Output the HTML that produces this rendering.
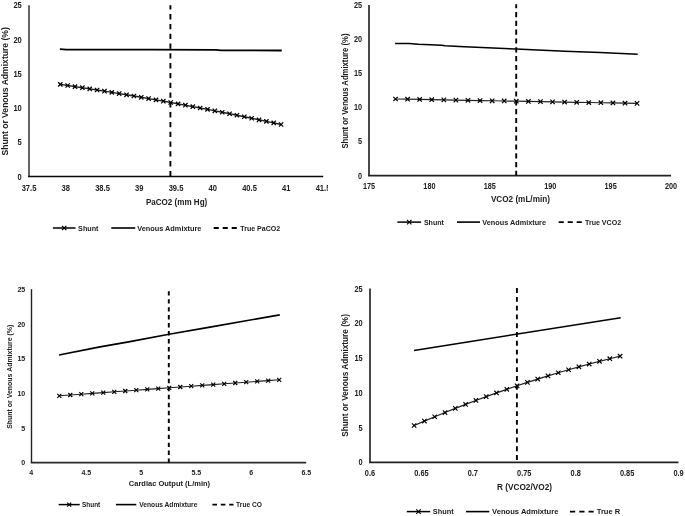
<!DOCTYPE html>
<html><head><meta charset="utf-8"><style>
html,body{margin:0;padding:0;background:#fff;width:685px;height:516px;overflow:hidden}
svg{display:block;font-family:"Liberation Sans", sans-serif;will-change:transform}
text{fill:#202020;stroke:#202020;stroke-width:0px;font-weight:bold}
</style></head><body>
<svg width="685" height="516" viewBox="0 0 685 516">
<defs><clipPath id="c1"><rect x="0" y="0" width="328" height="260"/></clipPath></defs>
<rect width="685" height="516" fill="#fff"/>
<g clip-path="url(#c1)">
<text x="0" y="0" transform="translate(21.80 179.60) scale(0.88 1)" font-size="8.6" text-anchor="end" >0</text>
<text x="0" y="0" transform="translate(21.80 145.36) scale(0.88 1)" font-size="8.6" text-anchor="end" >5</text>
<text x="0" y="0" transform="translate(21.80 111.12) scale(0.88 1)" font-size="8.6" text-anchor="end" >10</text>
<text x="0" y="0" transform="translate(21.80 76.88) scale(0.88 1)" font-size="8.6" text-anchor="end" >15</text>
<text x="0" y="0" transform="translate(21.80 42.64) scale(0.88 1)" font-size="8.6" text-anchor="end" >20</text>
<text x="0" y="0" transform="translate(21.80 8.40) scale(0.88 1)" font-size="8.6" text-anchor="end" >25</text>
<text x="0" y="0" transform="translate(29.00 191.10) scale(0.88 1)" font-size="8.6" text-anchor="middle" >37.5</text>
<text x="0" y="0" transform="translate(65.75 191.10) scale(0.88 1)" font-size="8.6" text-anchor="middle" >38</text>
<text x="0" y="0" transform="translate(102.50 191.10) scale(0.88 1)" font-size="8.6" text-anchor="middle" >38.5</text>
<text x="0" y="0" transform="translate(139.25 191.10) scale(0.88 1)" font-size="8.6" text-anchor="middle" >39</text>
<text x="0" y="0" transform="translate(176.00 191.10) scale(0.88 1)" font-size="8.6" text-anchor="middle" >39.5</text>
<text x="0" y="0" transform="translate(212.75 191.10) scale(0.88 1)" font-size="8.6" text-anchor="middle" >40</text>
<text x="0" y="0" transform="translate(249.50 191.10) scale(0.88 1)" font-size="8.6" text-anchor="middle" >40.5</text>
<text x="0" y="0" transform="translate(286.25 191.10) scale(0.88 1)" font-size="8.6" text-anchor="middle" >41</text>
<text x="0" y="0" transform="translate(323.00 191.10) scale(0.88 1)" font-size="8.6" text-anchor="middle" >41.5</text>
<line x1="29.00" y1="5.30" x2="29.00" y2="177.00" stroke="#666" stroke-width="2" />
<line x1="28.00" y1="176.50" x2="323.20" y2="176.50" stroke="#0a0a0a" stroke-width="1.7" />
<line x1="170.40" y1="5.30" x2="170.40" y2="176.50" stroke="#000" stroke-width="1.9" stroke-dasharray="5.3 4.5" stroke-dashoffset="1.0"/>
<polyline points="59.90,49.10 66.40,49.60 150.00,49.70 216.00,49.90 221.00,50.40 281.80,50.50" fill="none" stroke="#000" stroke-width="1.8" stroke-linejoin="round" />
<polyline points="60.30,84.40 67.66,85.49 75.02,86.59 82.38,87.71 89.74,88.85 97.10,90.00 104.46,91.17 111.82,92.36 119.18,93.57 126.54,94.79 133.90,96.03 141.26,97.29 148.62,98.57 155.98,99.86 163.34,101.17 170.70,102.50 178.06,103.85 185.42,105.21 192.78,106.59 200.14,107.99 207.50,109.40 214.86,110.83 222.22,112.28 229.58,113.75 236.94,115.23 244.30,116.73 251.66,118.25 259.02,119.79 266.38,121.34 273.74,122.91 281.10,124.50" fill="none" stroke="#222" stroke-width="1.4" stroke-linejoin="round" />
<path d="M58.15,82.25L62.45,86.55M58.15,86.55L62.45,82.25" stroke="#000" stroke-width="1.25" fill="none"/>
<path d="M65.51,83.34L69.81,87.64M65.51,87.64L69.81,83.34" stroke="#000" stroke-width="1.25" fill="none"/>
<path d="M72.87,84.44L77.17,88.74M72.87,88.74L77.17,84.44" stroke="#000" stroke-width="1.25" fill="none"/>
<path d="M80.23,85.56L84.53,89.86M80.23,89.86L84.53,85.56" stroke="#000" stroke-width="1.25" fill="none"/>
<path d="M87.59,86.70L91.89,91.00M87.59,91.00L91.89,86.70" stroke="#000" stroke-width="1.25" fill="none"/>
<path d="M94.95,87.85L99.25,92.15M94.95,92.15L99.25,87.85" stroke="#000" stroke-width="1.25" fill="none"/>
<path d="M102.31,89.02L106.61,93.32M102.31,93.32L106.61,89.02" stroke="#000" stroke-width="1.25" fill="none"/>
<path d="M109.67,90.21L113.97,94.51M109.67,94.51L113.97,90.21" stroke="#000" stroke-width="1.25" fill="none"/>
<path d="M117.03,91.42L121.33,95.72M117.03,95.72L121.33,91.42" stroke="#000" stroke-width="1.25" fill="none"/>
<path d="M124.39,92.64L128.69,96.94M124.39,96.94L128.69,92.64" stroke="#000" stroke-width="1.25" fill="none"/>
<path d="M131.75,93.88L136.05,98.18M131.75,98.18L136.05,93.88" stroke="#000" stroke-width="1.25" fill="none"/>
<path d="M139.11,95.14L143.41,99.44M139.11,99.44L143.41,95.14" stroke="#000" stroke-width="1.25" fill="none"/>
<path d="M146.47,96.42L150.77,100.72M146.47,100.72L150.77,96.42" stroke="#000" stroke-width="1.25" fill="none"/>
<path d="M153.83,97.71L158.13,102.01M153.83,102.01L158.13,97.71" stroke="#000" stroke-width="1.25" fill="none"/>
<path d="M161.19,99.02L165.49,103.32M161.19,103.32L165.49,99.02" stroke="#000" stroke-width="1.25" fill="none"/>
<path d="M168.55,100.35L172.85,104.65M168.55,104.65L172.85,100.35" stroke="#000" stroke-width="1.25" fill="none"/>
<path d="M175.91,101.70L180.21,106.00M175.91,106.00L180.21,101.70" stroke="#000" stroke-width="1.25" fill="none"/>
<path d="M183.27,103.06L187.57,107.36M183.27,107.36L187.57,103.06" stroke="#000" stroke-width="1.25" fill="none"/>
<path d="M190.63,104.44L194.93,108.74M190.63,108.74L194.93,104.44" stroke="#000" stroke-width="1.25" fill="none"/>
<path d="M197.99,105.84L202.29,110.14M197.99,110.14L202.29,105.84" stroke="#000" stroke-width="1.25" fill="none"/>
<path d="M205.35,107.25L209.65,111.55M205.35,111.55L209.65,107.25" stroke="#000" stroke-width="1.25" fill="none"/>
<path d="M212.71,108.68L217.01,112.98M212.71,112.98L217.01,108.68" stroke="#000" stroke-width="1.25" fill="none"/>
<path d="M220.07,110.13L224.37,114.43M220.07,114.43L224.37,110.13" stroke="#000" stroke-width="1.25" fill="none"/>
<path d="M227.43,111.60L231.73,115.90M227.43,115.90L231.73,111.60" stroke="#000" stroke-width="1.25" fill="none"/>
<path d="M234.79,113.08L239.09,117.38M234.79,117.38L239.09,113.08" stroke="#000" stroke-width="1.25" fill="none"/>
<path d="M242.15,114.58L246.45,118.88M242.15,118.88L246.45,114.58" stroke="#000" stroke-width="1.25" fill="none"/>
<path d="M249.51,116.10L253.81,120.40M249.51,120.40L253.81,116.10" stroke="#000" stroke-width="1.25" fill="none"/>
<path d="M256.87,117.64L261.17,121.94M256.87,121.94L261.17,117.64" stroke="#000" stroke-width="1.25" fill="none"/>
<path d="M264.23,119.19L268.53,123.49M264.23,123.49L268.53,119.19" stroke="#000" stroke-width="1.25" fill="none"/>
<path d="M271.59,120.76L275.89,125.06M271.59,125.06L275.89,120.76" stroke="#000" stroke-width="1.25" fill="none"/>
<path d="M278.95,122.35L283.25,126.65M278.95,126.65L283.25,122.35" stroke="#000" stroke-width="1.25" fill="none"/>
<text x="145.90" y="205.27" font-size="8.8" text-anchor="start" textLength="61.40" lengthAdjust="spacingAndGlyphs" >PaCO2 (mm Hg)</text>
<text x="8.30" y="155.50" font-size="8.2" text-anchor="start" textLength="128.30" lengthAdjust="spacingAndGlyphs" transform="rotate(-90 8.30 155.50)" >Shunt or Venous Admixture (%)</text>
<line x1="52.90" y1="228.00" x2="75.50" y2="228.00" stroke="#000" stroke-width="1.5" />
<path d="M62.05,225.85L66.35,230.15M62.05,230.15L66.35,225.85" stroke="#000" stroke-width="1.25" fill="none"/>
<text x="78.10" y="230.81" font-size="7.8" text-anchor="start" textLength="20.40" lengthAdjust="spacingAndGlyphs" >Shunt</text>
<line x1="111.30" y1="228.00" x2="135.30" y2="228.00" stroke="#000" stroke-width="1.6" />
<text x="137.20" y="230.81" font-size="7.8" text-anchor="start" textLength="64.20" lengthAdjust="spacingAndGlyphs" >Venous Admixture</text>
<line x1="213.70" y1="228.00" x2="236.80" y2="228.00" stroke="#000" stroke-width="1.8" stroke-dasharray="5.1 3.9"/>
<text x="240.30" y="230.81" font-size="7.8" text-anchor="start" textLength="39.80" lengthAdjust="spacingAndGlyphs" >True PaCO2</text>
</g>
<text x="0" y="0" transform="translate(362.00 178.59) scale(0.88 1)" font-size="8.3" text-anchor="end" >0</text>
<text x="0" y="0" transform="translate(362.00 144.45) scale(0.88 1)" font-size="8.3" text-anchor="end" >5</text>
<text x="0" y="0" transform="translate(362.00 110.31) scale(0.88 1)" font-size="8.3" text-anchor="end" >10</text>
<text x="0" y="0" transform="translate(362.00 76.17) scale(0.88 1)" font-size="8.3" text-anchor="end" >15</text>
<text x="0" y="0" transform="translate(362.00 42.03) scale(0.88 1)" font-size="8.3" text-anchor="end" >20</text>
<text x="0" y="0" transform="translate(362.00 7.89) scale(0.88 1)" font-size="8.3" text-anchor="end" >25</text>
<text x="0" y="0" transform="translate(369.00 189.09) scale(0.88 1)" font-size="8.3" text-anchor="middle" >175</text>
<text x="0" y="0" transform="translate(429.40 189.09) scale(0.88 1)" font-size="8.3" text-anchor="middle" >180</text>
<text x="0" y="0" transform="translate(489.80 189.09) scale(0.88 1)" font-size="8.3" text-anchor="middle" >185</text>
<text x="0" y="0" transform="translate(550.20 189.09) scale(0.88 1)" font-size="8.3" text-anchor="middle" >190</text>
<text x="0" y="0" transform="translate(610.60 189.09) scale(0.88 1)" font-size="8.3" text-anchor="middle" >195</text>
<text x="0" y="0" transform="translate(671.00 189.09) scale(0.88 1)" font-size="8.3" text-anchor="middle" >200</text>
<line x1="369.00" y1="4.90" x2="369.00" y2="176.10" stroke="#4a4a4a" stroke-width="2" />
<line x1="368.00" y1="175.60" x2="671.00" y2="175.60" stroke="#222" stroke-width="1.7" />
<line x1="516.20" y1="4.30" x2="516.20" y2="175.60" stroke="#000" stroke-width="1.9" stroke-dasharray="5.2 3.63" stroke-dashoffset="1.2"/>
<polyline points="395.10,43.40 409.00,43.50 418.40,44.30 441.70,45.20 445.20,45.70 459.30,46.40 516.20,49.10 565.00,51.30 600.00,52.60 637.70,54.30" fill="none" stroke="#000" stroke-width="1.5" stroke-linejoin="round" />
<polyline points="395.50,99.00 407.58,99.22 419.66,99.44 431.74,99.66 443.82,99.88 455.90,100.10 467.98,100.32 480.06,100.54 492.14,100.76 504.22,100.98 516.30,101.20 528.38,101.42 540.46,101.64 552.54,101.86 564.62,102.08 576.70,102.30 588.78,102.52 600.86,102.74 612.94,102.96 625.02,103.18 637.10,103.40" fill="none" stroke="#222" stroke-width="1.2" stroke-linejoin="round" />
<path d="M393.30,96.80L397.70,101.20M393.30,101.20L397.70,96.80" stroke="#000" stroke-width="1.2" fill="none"/>
<path d="M405.38,97.02L409.78,101.42M405.38,101.42L409.78,97.02" stroke="#000" stroke-width="1.2" fill="none"/>
<path d="M417.46,97.24L421.86,101.64M417.46,101.64L421.86,97.24" stroke="#000" stroke-width="1.2" fill="none"/>
<path d="M429.54,97.46L433.94,101.86M429.54,101.86L433.94,97.46" stroke="#000" stroke-width="1.2" fill="none"/>
<path d="M441.62,97.68L446.02,102.08M441.62,102.08L446.02,97.68" stroke="#000" stroke-width="1.2" fill="none"/>
<path d="M453.70,97.90L458.10,102.30M453.70,102.30L458.10,97.90" stroke="#000" stroke-width="1.2" fill="none"/>
<path d="M465.78,98.12L470.18,102.52M465.78,102.52L470.18,98.12" stroke="#000" stroke-width="1.2" fill="none"/>
<path d="M477.86,98.34L482.26,102.74M477.86,102.74L482.26,98.34" stroke="#000" stroke-width="1.2" fill="none"/>
<path d="M489.94,98.56L494.34,102.96M489.94,102.96L494.34,98.56" stroke="#000" stroke-width="1.2" fill="none"/>
<path d="M502.02,98.78L506.42,103.18M502.02,103.18L506.42,98.78" stroke="#000" stroke-width="1.2" fill="none"/>
<path d="M514.10,99.00L518.50,103.40M514.10,103.40L518.50,99.00" stroke="#000" stroke-width="1.2" fill="none"/>
<path d="M526.18,99.22L530.58,103.62M526.18,103.62L530.58,99.22" stroke="#000" stroke-width="1.2" fill="none"/>
<path d="M538.26,99.44L542.66,103.84M538.26,103.84L542.66,99.44" stroke="#000" stroke-width="1.2" fill="none"/>
<path d="M550.34,99.66L554.74,104.06M550.34,104.06L554.74,99.66" stroke="#000" stroke-width="1.2" fill="none"/>
<path d="M562.42,99.88L566.82,104.28M562.42,104.28L566.82,99.88" stroke="#000" stroke-width="1.2" fill="none"/>
<path d="M574.50,100.10L578.90,104.50M574.50,104.50L578.90,100.10" stroke="#000" stroke-width="1.2" fill="none"/>
<path d="M586.58,100.32L590.98,104.72M586.58,104.72L590.98,100.32" stroke="#000" stroke-width="1.2" fill="none"/>
<path d="M598.66,100.54L603.06,104.94M598.66,104.94L603.06,100.54" stroke="#000" stroke-width="1.2" fill="none"/>
<path d="M610.74,100.76L615.14,105.16M610.74,105.16L615.14,100.76" stroke="#000" stroke-width="1.2" fill="none"/>
<path d="M622.82,100.98L627.22,105.38M622.82,105.38L627.22,100.98" stroke="#000" stroke-width="1.2" fill="none"/>
<path d="M634.90,101.20L639.30,105.60M634.90,105.60L639.30,101.20" stroke="#000" stroke-width="1.2" fill="none"/>
<text x="490.90" y="201.99" font-size="8.3" text-anchor="start" textLength="59.00" lengthAdjust="spacingAndGlyphs" >VCO2 (mL/min)</text>
<text x="348.20" y="148.60" font-size="8.2" text-anchor="start" textLength="115.10" lengthAdjust="spacingAndGlyphs" transform="rotate(-90 348.20 148.60)" >Shunt or Venous Admixture (%)</text>
<line x1="397.40" y1="222.10" x2="421.10" y2="222.10" stroke="#000" stroke-width="1.5" />
<path d="M407.05,219.90L411.45,224.30M407.05,224.30L411.45,219.90" stroke="#000" stroke-width="1.2" fill="none"/>
<text x="423.90" y="224.98" font-size="8" text-anchor="start" textLength="20.00" lengthAdjust="spacingAndGlyphs" >Shunt</text>
<line x1="457.00" y1="222.10" x2="480.00" y2="222.10" stroke="#000" stroke-width="1.6" />
<text x="482.30" y="224.98" font-size="8" text-anchor="start" textLength="63.70" lengthAdjust="spacingAndGlyphs" >Venous Admixture</text>
<line x1="558.70" y1="222.10" x2="581.80" y2="222.10" stroke="#000" stroke-width="1.8" stroke-dasharray="5.1 3.9"/>
<text x="585.00" y="224.98" font-size="8" text-anchor="start" textLength="36.10" lengthAdjust="spacingAndGlyphs" >True VCO2</text>
<text x="0" y="0" transform="translate(25.20 465.48) scale(0.88 1)" font-size="8.0" text-anchor="end" >0</text>
<text x="0" y="0" transform="translate(25.20 430.78) scale(0.88 1)" font-size="8.0" text-anchor="end" >5</text>
<text x="0" y="0" transform="translate(25.20 396.08) scale(0.88 1)" font-size="8.0" text-anchor="end" >10</text>
<text x="0" y="0" transform="translate(25.20 361.38) scale(0.88 1)" font-size="8.0" text-anchor="end" >15</text>
<text x="0" y="0" transform="translate(25.20 326.68) scale(0.88 1)" font-size="8.0" text-anchor="end" >20</text>
<text x="0" y="0" transform="translate(25.20 291.98) scale(0.88 1)" font-size="8.0" text-anchor="end" >25</text>
<text x="0" y="0" transform="translate(31.30 474.88) scale(0.88 1)" font-size="8.0" text-anchor="middle" >4</text>
<text x="0" y="0" transform="translate(86.30 474.88) scale(0.88 1)" font-size="8.0" text-anchor="middle" >4.5</text>
<text x="0" y="0" transform="translate(141.30 474.88) scale(0.88 1)" font-size="8.0" text-anchor="middle" >5</text>
<text x="0" y="0" transform="translate(196.30 474.88) scale(0.88 1)" font-size="8.0" text-anchor="middle" >5.5</text>
<text x="0" y="0" transform="translate(251.30 474.88) scale(0.88 1)" font-size="8.0" text-anchor="middle" >6</text>
<text x="0" y="0" transform="translate(306.30 474.88) scale(0.88 1)" font-size="8.0" text-anchor="middle" >6.5</text>
<line x1="31.50" y1="289.10" x2="31.50" y2="463.10" stroke="#222" stroke-width="1.4" />
<line x1="30.80" y1="462.60" x2="306.20" y2="462.60" stroke="#2a2a2a" stroke-width="1.7" />
<line x1="168.80" y1="291.20" x2="168.80" y2="462.60" stroke="#000" stroke-width="1.9" stroke-dasharray="4.4 3.57" stroke-dashoffset="0"/>
<polyline points="59.00,355.00 100.00,346.90 130.00,341.60 169.00,334.20 210.00,327.10 279.80,314.90" fill="none" stroke="#000" stroke-width="1.6" stroke-linejoin="round" />
<polyline points="59.30,395.80 70.30,395.00 81.29,394.20 92.28,393.40 103.28,392.60 114.27,391.80 125.27,391.00 136.26,390.20 147.26,389.40 158.25,388.60 169.25,387.80 180.25,387.00 191.24,386.20 202.24,385.40 213.23,384.60 224.22,383.80 235.22,383.00 246.21,382.20 257.21,381.40 268.20,380.60 279.20,379.80" fill="none" stroke="#222" stroke-width="1.1" stroke-linejoin="round" />
<path d="M57.30,393.80L61.30,397.80M57.30,397.80L61.30,393.80" stroke="#000" stroke-width="1.15" fill="none"/>
<path d="M68.30,393.00L72.30,397.00M68.30,397.00L72.30,393.00" stroke="#000" stroke-width="1.15" fill="none"/>
<path d="M79.29,392.20L83.29,396.20M79.29,396.20L83.29,392.20" stroke="#000" stroke-width="1.15" fill="none"/>
<path d="M90.28,391.40L94.28,395.40M90.28,395.40L94.28,391.40" stroke="#000" stroke-width="1.15" fill="none"/>
<path d="M101.28,390.60L105.28,394.60M101.28,394.60L105.28,390.60" stroke="#000" stroke-width="1.15" fill="none"/>
<path d="M112.27,389.80L116.27,393.80M112.27,393.80L116.27,389.80" stroke="#000" stroke-width="1.15" fill="none"/>
<path d="M123.27,389.00L127.27,393.00M123.27,393.00L127.27,389.00" stroke="#000" stroke-width="1.15" fill="none"/>
<path d="M134.26,388.20L138.26,392.20M134.26,392.20L138.26,388.20" stroke="#000" stroke-width="1.15" fill="none"/>
<path d="M145.26,387.40L149.26,391.40M145.26,391.40L149.26,387.40" stroke="#000" stroke-width="1.15" fill="none"/>
<path d="M156.25,386.60L160.25,390.60M156.25,390.60L160.25,386.60" stroke="#000" stroke-width="1.15" fill="none"/>
<path d="M167.25,385.80L171.25,389.80M167.25,389.80L171.25,385.80" stroke="#000" stroke-width="1.15" fill="none"/>
<path d="M178.25,385.00L182.25,389.00M178.25,389.00L182.25,385.00" stroke="#000" stroke-width="1.15" fill="none"/>
<path d="M189.24,384.20L193.24,388.20M189.24,388.20L193.24,384.20" stroke="#000" stroke-width="1.15" fill="none"/>
<path d="M200.24,383.40L204.24,387.40M200.24,387.40L204.24,383.40" stroke="#000" stroke-width="1.15" fill="none"/>
<path d="M211.23,382.60L215.23,386.60M211.23,386.60L215.23,382.60" stroke="#000" stroke-width="1.15" fill="none"/>
<path d="M222.22,381.80L226.22,385.80M222.22,385.80L226.22,381.80" stroke="#000" stroke-width="1.15" fill="none"/>
<path d="M233.22,381.00L237.22,385.00M233.22,385.00L237.22,381.00" stroke="#000" stroke-width="1.15" fill="none"/>
<path d="M244.21,380.20L248.21,384.20M244.21,384.20L248.21,380.20" stroke="#000" stroke-width="1.15" fill="none"/>
<path d="M255.21,379.40L259.21,383.40M255.21,383.40L259.21,379.40" stroke="#000" stroke-width="1.15" fill="none"/>
<path d="M266.20,378.60L270.20,382.60M266.20,382.60L270.20,378.60" stroke="#000" stroke-width="1.15" fill="none"/>
<path d="M277.20,377.80L281.20,381.80M277.20,381.80L281.20,377.80" stroke="#000" stroke-width="1.15" fill="none"/>
<text x="128.80" y="486.48" font-size="8" text-anchor="start" textLength="81.30" lengthAdjust="spacingAndGlyphs" >Cardiac Output (L/min)</text>
<text x="12.50" y="428.80" font-size="7.3" text-anchor="start" textLength="104.10" lengthAdjust="spacingAndGlyphs" transform="rotate(-90 12.50 428.80)" >Shunt or Venous Admixture (%)</text>
<line x1="58.70" y1="504.60" x2="79.70" y2="504.60" stroke="#000" stroke-width="1.5" />
<path d="M67.20,502.60L71.20,506.60M67.20,506.60L71.20,502.60" stroke="#000" stroke-width="1.15" fill="none"/>
<text x="82.00" y="507.30" font-size="7.5" text-anchor="start" textLength="18.20" lengthAdjust="spacingAndGlyphs" >Shunt</text>
<line x1="115.90" y1="504.60" x2="136.30" y2="504.60" stroke="#000" stroke-width="1.6" />
<text x="139.30" y="507.30" font-size="7.5" text-anchor="start" textLength="58.10" lengthAdjust="spacingAndGlyphs" >Venous Admixture</text>
<line x1="212.40" y1="504.60" x2="233.50" y2="504.60" stroke="#000" stroke-width="1.8" stroke-dasharray="4.6 3.8"/>
<text x="236.10" y="507.30" font-size="7.5" text-anchor="start" textLength="25.90" lengthAdjust="spacingAndGlyphs" >True CO</text>
<text x="0" y="0" transform="translate(362.60 465.32) scale(0.88 1)" font-size="8.4" text-anchor="end" >0</text>
<text x="0" y="0" transform="translate(362.60 430.58) scale(0.88 1)" font-size="8.4" text-anchor="end" >5</text>
<text x="0" y="0" transform="translate(362.60 395.84) scale(0.88 1)" font-size="8.4" text-anchor="end" >10</text>
<text x="0" y="0" transform="translate(362.60 361.10) scale(0.88 1)" font-size="8.4" text-anchor="end" >15</text>
<text x="0" y="0" transform="translate(362.60 326.36) scale(0.88 1)" font-size="8.4" text-anchor="end" >20</text>
<text x="0" y="0" transform="translate(362.60 291.62) scale(0.88 1)" font-size="8.4" text-anchor="end" >25</text>
<text x="0" y="0" transform="translate(370.00 476.32) scale(0.88 1)" font-size="8.4" text-anchor="middle" >0.6</text>
<text x="0" y="0" transform="translate(421.42 476.32) scale(0.88 1)" font-size="8.4" text-anchor="middle" >0.65</text>
<text x="0" y="0" transform="translate(472.84 476.32) scale(0.88 1)" font-size="8.4" text-anchor="middle" >0.7</text>
<text x="0" y="0" transform="translate(524.26 476.32) scale(0.88 1)" font-size="8.4" text-anchor="middle" >0.75</text>
<text x="0" y="0" transform="translate(575.68 476.32) scale(0.88 1)" font-size="8.4" text-anchor="middle" >0.8</text>
<text x="0" y="0" transform="translate(627.10 476.32) scale(0.88 1)" font-size="8.4" text-anchor="middle" >0.85</text>
<text x="0" y="0" transform="translate(678.52 476.32) scale(0.88 1)" font-size="8.4" text-anchor="middle" >0.9</text>
<line x1="370.00" y1="288.60" x2="370.00" y2="462.80" stroke="#484848" stroke-width="2" />
<line x1="369.00" y1="462.30" x2="678.50" y2="462.30" stroke="#222" stroke-width="1.7" />
<line x1="516.90" y1="288.10" x2="516.90" y2="462.30" stroke="#000" stroke-width="1.9" stroke-dasharray="4.9 3.89" stroke-dashoffset="0"/>
<polyline points="414.00,350.40 620.70,317.70" fill="none" stroke="#000" stroke-width="1.55" stroke-linejoin="round" />
<polyline points="414.10,425.50 424.40,421.08 434.70,416.75 445.00,412.53 455.30,408.41 465.60,404.39 475.90,400.47 486.20,396.65 496.50,392.93 506.80,389.32 517.10,385.80 527.40,382.39 537.70,379.07 548.00,375.86 558.30,372.75 568.60,369.74 578.90,366.83 589.20,364.02 599.50,361.31 609.80,358.71 620.10,356.20" fill="none" stroke="#222" stroke-width="1.2" stroke-linejoin="round" />
<path d="M411.90,423.30L416.30,427.70M411.90,427.70L416.30,423.30" stroke="#000" stroke-width="1.15" fill="none"/>
<path d="M422.20,418.88L426.60,423.28M422.20,423.28L426.60,418.88" stroke="#000" stroke-width="1.15" fill="none"/>
<path d="M432.50,414.55L436.90,418.95M432.50,418.95L436.90,414.55" stroke="#000" stroke-width="1.15" fill="none"/>
<path d="M442.80,410.33L447.20,414.73M442.80,414.73L447.20,410.33" stroke="#000" stroke-width="1.15" fill="none"/>
<path d="M453.10,406.21L457.50,410.61M453.10,410.61L457.50,406.21" stroke="#000" stroke-width="1.15" fill="none"/>
<path d="M463.40,402.19L467.80,406.59M463.40,406.59L467.80,402.19" stroke="#000" stroke-width="1.15" fill="none"/>
<path d="M473.70,398.27L478.10,402.67M473.70,402.67L478.10,398.27" stroke="#000" stroke-width="1.15" fill="none"/>
<path d="M484.00,394.45L488.40,398.85M484.00,398.85L488.40,394.45" stroke="#000" stroke-width="1.15" fill="none"/>
<path d="M494.30,390.73L498.70,395.13M494.30,395.13L498.70,390.73" stroke="#000" stroke-width="1.15" fill="none"/>
<path d="M504.60,387.12L509.00,391.52M504.60,391.52L509.00,387.12" stroke="#000" stroke-width="1.15" fill="none"/>
<path d="M514.90,383.60L519.30,388.00M514.90,388.00L519.30,383.60" stroke="#000" stroke-width="1.15" fill="none"/>
<path d="M525.20,380.19L529.60,384.59M525.20,384.59L529.60,380.19" stroke="#000" stroke-width="1.15" fill="none"/>
<path d="M535.50,376.87L539.90,381.27M535.50,381.27L539.90,376.87" stroke="#000" stroke-width="1.15" fill="none"/>
<path d="M545.80,373.66L550.20,378.06M545.80,378.06L550.20,373.66" stroke="#000" stroke-width="1.15" fill="none"/>
<path d="M556.10,370.55L560.50,374.95M556.10,374.95L560.50,370.55" stroke="#000" stroke-width="1.15" fill="none"/>
<path d="M566.40,367.54L570.80,371.94M566.40,371.94L570.80,367.54" stroke="#000" stroke-width="1.15" fill="none"/>
<path d="M576.70,364.63L581.10,369.03M576.70,369.03L581.10,364.63" stroke="#000" stroke-width="1.15" fill="none"/>
<path d="M587.00,361.82L591.40,366.22M587.00,366.22L591.40,361.82" stroke="#000" stroke-width="1.15" fill="none"/>
<path d="M597.30,359.11L601.70,363.51M597.30,363.51L601.70,359.11" stroke="#000" stroke-width="1.15" fill="none"/>
<path d="M607.60,356.51L612.00,360.91M607.60,360.91L612.00,356.51" stroke="#000" stroke-width="1.15" fill="none"/>
<path d="M617.90,354.00L622.30,358.40M617.90,358.40L622.30,354.00" stroke="#000" stroke-width="1.15" fill="none"/>
<text x="496.90" y="490.06" font-size="8.5" text-anchor="start" textLength="55.20" lengthAdjust="spacingAndGlyphs" >R (VCO2/VO2)</text>
<text x="348.50" y="436.80" font-size="8.5" text-anchor="start" textLength="122.70" lengthAdjust="spacingAndGlyphs" transform="rotate(-90 348.50 436.80)" >Shunt or Venous Admixture (%)</text>
<line x1="406.80" y1="511.60" x2="430.20" y2="511.60" stroke="#000" stroke-width="1.5" />
<path d="M416.30,509.40L420.70,513.80M416.30,513.80L420.70,509.40" stroke="#000" stroke-width="1.15" fill="none"/>
<text x="432.80" y="514.48" font-size="8" text-anchor="start" textLength="20.90" lengthAdjust="spacingAndGlyphs" >Shunt</text>
<line x1="466.00" y1="511.60" x2="489.30" y2="511.60" stroke="#000" stroke-width="1.6" />
<text x="492.10" y="514.48" font-size="8" text-anchor="start" textLength="66.30" lengthAdjust="spacingAndGlyphs" >Venous Admixture</text>
<line x1="570.00" y1="511.60" x2="593.70" y2="511.60" stroke="#000" stroke-width="1.8" stroke-dasharray="5.2 4.1"/>
<text x="596.70" y="514.48" font-size="8" text-anchor="start" textLength="23.50" lengthAdjust="spacingAndGlyphs" >True R</text>
</svg>
</body></html>
